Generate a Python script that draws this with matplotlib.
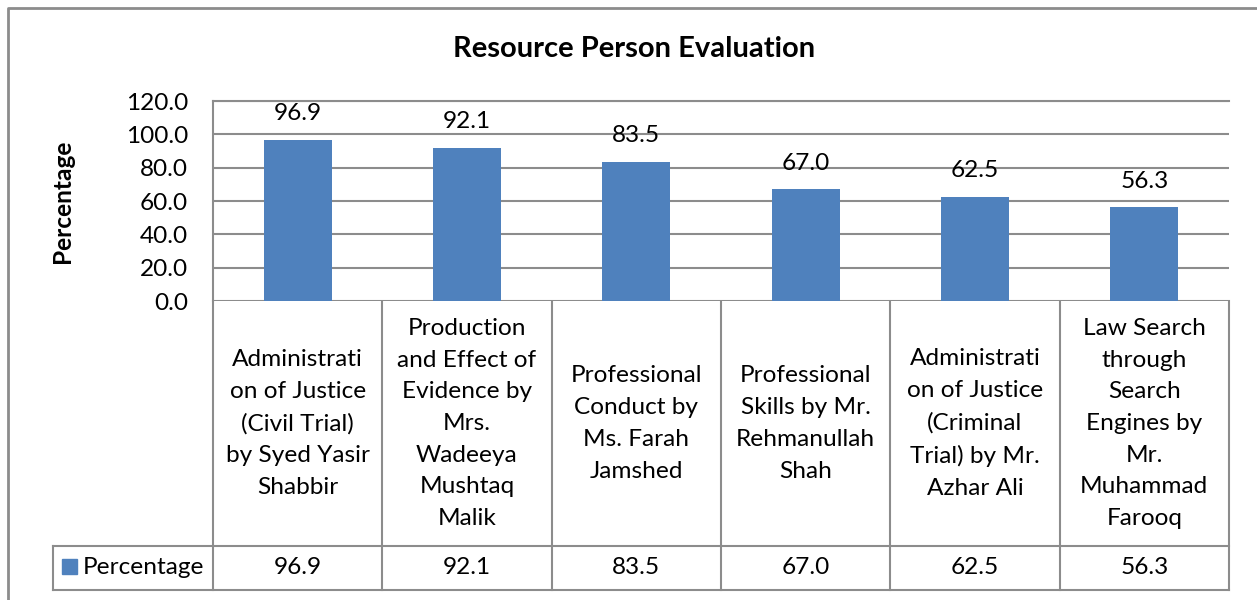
import numpy as np
import matplotlib
matplotlib.use("Agg")
import matplotlib.pyplot as plt
import matplotlib.transforms as mtransforms

# chart data
categories = [
    "Administrati\non of Justice\n(Civil Trial)\nby Syed Yasir\nShabbir",
    "Production\nand Effect of\nEvidence by\nMrs.\nWadeeya\nMushtaq\nMalik",
    "Professional\nConduct by\nMs. Farah\nJamshed",
    "Professional\nSkills by Mr.\nRehmanullah\nShah",
    "Administrati\non of Justice\n(Criminal\nTrial) by Mr.\nAzhar Ali",
    "Law Search\nthrough\nSearch\nEngines by\nMr.\nMuhammad\nFarooq",
]
percentage = [96.9, 92.1, 83.5, 67.0, 62.5, 56.3]
yticks = [0, 20, 40, 60, 80, 100, 120]
series_name = "Percentage"

BAR_COLOR = "#4F81BD"
LINE_COLOR = "#8C8C8C"
FS = 17.6
W, H = 1257, 600
plt.rcParams['font.family'] = ['Lato', 'DejaVu Sans']

fig = plt.figure(figsize=(W / 100, H / 100), dpi=100)

# overlay axes in pixel coordinates (y down)
ov = fig.add_axes([0, 0, 1, 1])
ov.set_xlim(0, W)
ov.set_ylim(H, 0)
ov.axis("off")

# plot area
left, right, top, bottom = 213, 1229, 101, 301
ax = fig.add_axes([left / W, 1 - bottom / H, (right - left) / W, (bottom - top) / H])
x = np.arange(len(percentage))
ax.bar(x, percentage, width=0.4, color=BAR_COLOR, zorder=3)
ax.set_xlim(-0.5, len(x) - 0.5)
ax.set_ylim(0, 120)
ax.set_yticks(yticks)
ax.set_yticklabels(["%.1f" % v for v in yticks])
ax.set_xticks([])
ax.grid(axis="y", color=LINE_COLOR, linewidth=1.5, zorder=0)
ax.tick_params(axis="y", length=0, pad=18, labelsize=FS)
for s in ["right", "bottom"]:
    ax.spines[s].set_visible(False)
for s in ["left", "top"]:
    ax.spines[s].set_color(LINE_COLOR)
    ax.spines[s].set_linewidth(1.5)

for xi, v in zip(x, percentage):
    ax.annotate("%.1f" % v, (xi, v), xytext=(0, 26), textcoords="offset pixels",
                ha="center", va="center", fontsize=FS)

ov.text(634, 49, "Resource Person Evaluation", ha="center", va="center",
        fontsize=21, fontweight="bold")
ov.text(62, 201, "Percentage", ha="center", va="center", rotation=90,
        fontsize=FS, fontweight="bold")

# data table under the plot
bt = mtransforms.blended_transform_factory(ax.transData, ov.transData)
row1_top, row1_bot, row2_bot = 301, 546, 590
leg_left = 53
kw = dict(color=LINE_COLOR, linewidth=1.5, clip_on=False, transform=bt)
for b in np.arange(len(x) + 1) - 0.5:
    ov.plot([b, b], [row1_top, row2_bot], **kw)
ov.plot([leg_left, right], [row1_bot, row1_bot], color=LINE_COLOR, linewidth=1.5, clip_on=False)
ov.plot([leg_left, right], [row2_bot, row2_bot], color=LINE_COLOR, linewidth=1.5, clip_on=False)
ov.plot([leg_left, leg_left], [row1_bot, row2_bot], color=LINE_COLOR, linewidth=1.5, clip_on=False)

for xi, lab, v in zip(x, categories, percentage):
    ov.text(xi, (row1_top + row1_bot) / 2, lab, transform=bt, ha="center", va="center",
            fontsize=FS, linespacing=1.63, multialignment="center")
    ov.text(xi, (row1_bot + row2_bot) / 2, "%.1f" % v, transform=bt, ha="center",
            va="center", fontsize=FS)

ov.add_patch(plt.Rectangle((62, 559), 15, 15, color=BAR_COLOR))
ov.text(83, (row1_bot + row2_bot) / 2, series_name, ha="left", va="center", fontsize=FS)

# outer chart border (left and top visible)
ov.plot([8, 8, W], [H, 8, 8], color=LINE_COLOR, linewidth=2, clip_on=False)

fig.savefig("out.png", dpi=100)
